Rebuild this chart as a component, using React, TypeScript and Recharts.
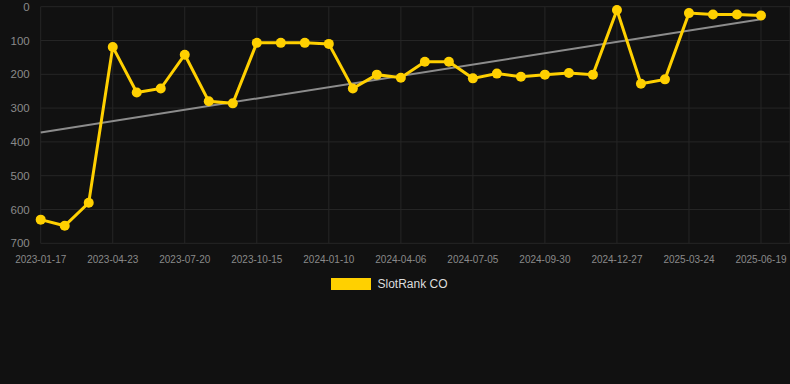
import React from 'react';
import { LineChart, Line, XAxis, YAxis, CartesianGrid, Legend, ReferenceLine } from 'recharts';

const dates = [
  '2023-01-17', '2023-02-18', '2023-03-22',
  '2023-04-23', '2023-05-22', '2023-06-20',
  '2023-07-20', '2023-08-18', '2023-09-16',
  '2023-10-15', '2023-11-13', '2023-12-12',
  '2024-01-10', '2024-02-08', '2024-03-08',
  '2024-04-06', '2024-05-06', '2024-06-05',
  '2024-07-05', '2024-08-03', '2024-09-01',
  '2024-09-30', '2024-10-29', '2024-11-28',
  '2024-12-27', '2025-01-25', '2025-02-23',
  '2025-03-24', '2025-04-22', '2025-05-21',
  '2025-06-19',
];

const ranks = [
  630, 648, 580, 119, 254, 242, 142, 280, 286, 107,
  107, 107, 110, 242, 201, 210, 163, 163, 212, 198,
  207, 201, 196, 201, 10, 228, 215, 19, 23, 23, 26,
];

const trendStart = 372;
const trendEnd = 37;

const yTicks = [0, 100, 200, 300, 400, 500, 600, 700];

const seriesName = 'SlotRank CO';

const data = dates.map((d, i) => ({ date: d, rank: ranks[i] }));

const FONT = '"Liberation Sans", Arial, Helvetica, sans-serif';
const YELLOW = '#FFD000';

const LegendContent = () => (
  <div
    style={{
      width: 790,
      height: 20,
      display: 'flex',
      alignItems: 'center',
      justifyContent: 'center',
      paddingRight: 11,
      boxSizing: 'border-box',
      fontFamily: FONT,
      fontSize: 12,
      color: '#dddddd',
    }}
  >
    <span style={{ display: 'inline-block', width: 40, height: 12, background: YELLOW, marginRight: 6 }} />
    <span>{seriesName}</span>
  </div>
);

export default function App() {
  return (
    <div
      style={{
        position: 'fixed',
        left: 0,
        top: 0,
        width: 790,
        height: 384,
        background: '#111111',
        fontFamily: FONT,
      }}
    >
      <LineChart
        width={790}
        height={293.3}
        data={data}
        margin={{ top: 6.7, right: 0, left: 0, bottom: 0 }}
      >
        <CartesianGrid stroke="#262626" strokeWidth={1} />
        <XAxis
          dataKey="date"
          interval={2}
          axisLine={false}
          tickLine={false}
          tickMargin={7}
          height={30}
          padding={{ left: 0, right: 29 }}
          tick={{ fill: '#8a8a8a', fontSize: 10, fontFamily: FONT }}
        />
        <YAxis
          reversed
          domain={[0, 700]}
          ticks={yTicks}
          width={40.7}
          axisLine={false}
          tickLine={false}
          tickMargin={5}
          tick={{ fill: '#8a8a8a', fontSize: 11.5, fontFamily: FONT }}
        />
        <ReferenceLine
          segment={[
            { x: dates[0], y: trendStart },
            { x: dates[dates.length - 1], y: trendEnd },
          ]}
          stroke="#8c8c8c"
          strokeWidth={2}
        />
        <Line
          type="linear"
          dataKey="rank"
          name={seriesName}
          stroke={YELLOW}
          strokeWidth={3}
          dot={{ r: 5, fill: YELLOW, stroke: YELLOW, strokeWidth: 0 }}
          activeDot={false}
          isAnimationActive={false}
        />
        <Legend content={<LegendContent />} wrapperStyle={{ top: 274, left: 0 }} />
      </LineChart>
    </div>
  );
}
